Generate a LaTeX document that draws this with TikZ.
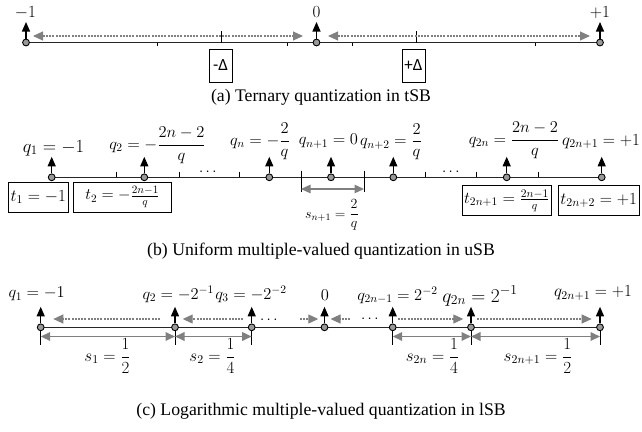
\RequirePackage{fix-cm}
\documentclass[tikz,border=0pt]{standalone}
\usepackage{amsmath}
\usepackage{fontspec}
\setmainfont{Liberation Serif}
\newfontfamily\deltafont{Carlito}
\usetikzlibrary{arrows.meta,calc,backgrounds}
\newcommand{\fs}[1]{\fontsize{#1}{#1}\selectfont}
% a quantization point: grey dot with a black arrow pointing up
\newcommand{\qmark}[3]{%
  \node[qpt] (#1) at (#2,#3) {};
  \coordinate (#1t) at ($(#1)+(0,-20.5)$);
  \draw[uparr] (#1) -- (#1t);}
\tikzset{gt/.tip={Triangle[width=9pt,length=10pt]}}
\begin{document}
\begin{tikzpicture}[x=1pt,y=-1pt,
  axis/.style={draw=black!85,line width=1.6pt},
  qpt/.style={circle,draw=black,fill=black!40,line width=0.9pt,inner sep=0pt,minimum size=6.8pt},
  uparr/.style={draw=black,line width=1.2pt,-{Triangle[width=8pt,length=9.5pt]}},
  dasharr/.style={draw=black!50,line width=1.1pt,dash pattern=on 2pt off 1.2pt},
  spanarr/.style={draw=black!50,line width=#1,{Triangle[width=8.5pt,length=9.5pt]}-{Triangle[width=8.5pt,length=9.5pt]}},
  tck/.style={draw=black,line width=1pt},
  lbl/.style={inner sep=0pt},
  valbox/.style={draw=black,line width=1pt,inner sep=0pt},
  captext/.style={inner sep=0pt,font=\fs{17.7}},
]
\useasboundingbox (0,0) rectangle (642,431);

% ---------------- (a) ternary ----------------
\qmark{a1}{26}{42.5}
\qmark{a2}{316.5}{42.5}
\qmark{a3}{600}{42.5}
\begin{scope}[on background layer]
  \draw[axis] (a1.center) -- (a3.center);
\end{scope}
\foreach \x in {157,287,352,535} \draw[tck] (\x,42.5) -- (\x,45.5);
\foreach \x in {221.7,416} \draw[tck] (\x,31) -- (\x,43);
\node[lbl] (la1) at (25.5,13) {\fs{17}$-1$};
\node[lbl] (la2) at (316.5,12.5) {\fs{17}$0$};
\node[lbl] (la3) at (600,12.5) {\fs{17}$+1$};
\node[valbox,minimum width=23pt,minimum height=33pt] (dm) at (220.5,65.5) {\deltafont\fs{17}-Δ};
\node[valbox,minimum width=23pt,minimum height=33pt] (dp) at (413.5,65.5) {\deltafont\fs{17}+Δ};
\draw[dasharr,gt-gt] ($(a1)+(7,-6.5)$) -- ($(a2)+(-13.5,-6.5)$);
\draw[dasharr,gt-gt] ($(a2)+(11.5,-6.5)$) -- ($(a3)+(-10,-6.5)$);
\node[captext] (capa) at (321,97) {(a) Ternary quantization in tSB};

% ---------------- (b) uniform ----------------
\qmark{b1}{51.7}{177.3}
\qmark{b2}{144.3}{177.3}
\qmark{bn}{269.3}{177.3}
\qmark{bm}{331}{177.3}
\qmark{bp}{393.3}{177.3}
\qmark{bq}{506.7}{177.3}
\qmark{br}{601.7}{177.3}
\begin{scope}[on background layer]
  \draw[axis] (b1.center) -- (br.center);
\end{scope}
\foreach \x in {116,179,239.3,425,476.7,538.3} \draw[tck] (\x,171.5) -- (\x,177.3);
\foreach \x in {301,364} \draw[tck] (\x,170.7) -- (\x,192.3);
\draw[spanarr=1.3pt] ($(bm)+(-30,11.7)$) -- ($(bm)+(33,11.7)$);
\node[lbl] at (209,172) {\fs{15}$\cdots$};
\node[lbl] at (452,172) {\fs{15}$\cdots$};
\node[lbl] (lb1) at (53.5,148) {\fs{18.5}$q_1=-1$};
\node[lbl] (lb2) at (157.5,145.5) {\fs{16.5}$q_2=-\dfrac{2n-2}{q}$};
\node[lbl] (lbn) at (260,141.5) {\fs{16.5}$q_n=-\dfrac{2}{q}$};
\node[lbl] (lbm) at (328.5,141) {\fs{16.5}$q_{n+1}=0$};
\node[lbl] (lbp) at (391,142) {\fs{16.5}$q_{n+2}=\dfrac{2}{q}$};
\node[lbl] (lbq) at (514,140.5) {\fs{16.5}$q_{2n}=\dfrac{2n-2}{q}$};
\node[lbl] (lbr) at (601,141.7) {\fs{17}$q_{2n+1}=+1$};
\node[lbl] (ls) at (332,215) {\fs{14}$s_{n+1}=\dfrac{2}{q}$};
\node[valbox,minimum width=60pt,minimum height=30pt] (t1) at (38.3,197) {\fs{17}$t_1=-1$};
\node[valbox,minimum width=98.4pt,minimum height=30pt] (t2) at (122.5,197) {\fs{16}$t_2=-\tfrac{2n-1}{q}$};
\node[valbox,minimum width=88.3pt,minimum height=30pt] (t3) at (506.85,200.5) {\fs{16.5}$t_{2n+1}=\tfrac{2n-1}{q}$};
\node[valbox,minimum width=80.7pt,minimum height=30pt] (t4) at (598.65,200.5) {\fs{17}$t_{2n+2}=+1$};
\node[captext] (capb) at (321,251) {(b) Uniform multiple-valued quantization in uSB};

% ---------------- (c) logarithmic ----------------
\qmark{c1}{40.7}{327.3}
\qmark{c2}{175}{327.3}
\qmark{c3}{251.7}{327.3}
\qmark{c0}{324.5}{327.3}
\qmark{cu}{392.7}{327.3}
\qmark{cv}{471}{327.3}
\qmark{cw}{600}{327.3}
\begin{scope}[on background layer]
  \draw[axis] (c1.center) -- (cw.center);
\end{scope}
\foreach \n in {c1,c2,c3,cu,cv,cw} {
  \coordinate (\n b) at ($(\n)+(0,18)$);
  \draw[tck] (\n) -- (\n b);
}
\draw[spanarr=1.7pt] ($(c1)+(0,9.2)$) -- ($(c2)+(0,9.2)$);
\draw[spanarr=1.7pt] ($(c2)+(0,9.2)$) -- ($(c3)+(0,9.2)$);
\draw[spanarr=1.7pt] ($(cu)+(0,9.2)$) -- ($(cv)+(0,9.2)$);
\draw[spanarr=1.7pt] ($(cv)+(0,9.2)$) -- ($(cw)+(0,9.2)$);
\draw[dasharr,-gt] ($(c2)+(-15,-8.3)$) -- ($(c1)+(12.6,-8.3)$);
\draw[dasharr,-gt] ($(c3)+(-8.4,-8.3)$) -- ($(c2)+(7.7,-8.3)$);
\draw[dasharr,-gt] ($(c0)+(-24.5,-8.3)$) -- ($(c0)+(-6.2,-8.3)$);
\draw[dasharr,-gt] ($(c0)+(25.5,-8.3)$) -- ($(c0)+(6,-8.3)$);
\draw[dasharr,-gt] ($(cu)+(5.3,-8.3)$) -- ($(cv)+(-7.7,-8.3)$);
\draw[dasharr,-gt] ($(cv)+(5.7,-8.3)$) -- ($(cw)+(-8.3,-8.3)$);
\node[lbl] at (270,320) {\fs{15}$\cdots$};
\node[lbl] at (371,319) {\fs{15}$\cdots$};
\node[lbl] (lc1) at (36.7,294) {\fs{16.5}$q_1=-1$};
\node[lbl] (lc2) at (178.3,294) {\fs{16.5}$q_2=-2^{-1}$};
\node[lbl] (lc3) at (251,294) {\fs{16.5}$q_3=-2^{-2}$};
\node[lbl] (lc0) at (325,295) {\fs{16.5}$0$};
\node[lbl] (lcu) at (397.5,295) {\fs{16.5}$q_{2n-1}=2^{-2}$};
\node[lbl] (lcv) at (480,296) {\fs{19.5}$q_{2n}=2^{-1}$};
\node[lbl] (lcw) at (593,293) {\fs{17}$q_{2n+1}=+1$};
\node[lbl] (ls1) at (107.5,356) {\fs{17}$s_1=\dfrac{1}{2}$};
\node[lbl] (ls2) at (212.5,356) {\fs{17}$s_2=\dfrac{1}{4}$};
\node[lbl] (ls3) at (432.5,356) {\fs{17}$s_{2n}=\dfrac{1}{4}$};
\node[lbl] (ls4) at (538,356) {\fs{17}$s_{2n+1}=\dfrac{1}{2}$};
\node[captext] (capc) at (321,411) {(c) Logarithmic multiple-valued quantization in lSB};
\end{tikzpicture}
\end{document}
